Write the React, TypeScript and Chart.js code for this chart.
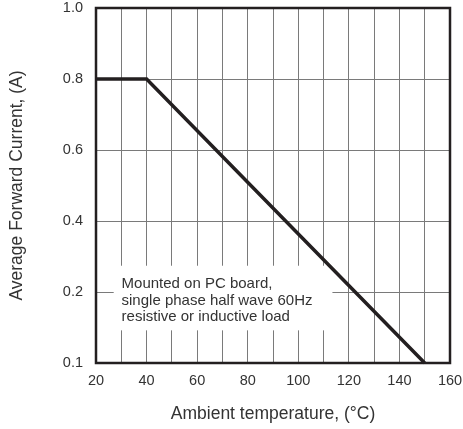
import { useEffect, useRef } from 'react';
import { Chart, registerables } from 'chart.js';

Chart.register(...registerables);

// ---- data ----
const temperatureC = [20, 40, 150];
const currentA = [0.8, 0.8, 0.1];
const yTickLabels = ['1.0', '0.8', '0.6', '0.4', '0.2', '0.1'];
const xMin = 20;
const xMax = 160;
const xMinorStep = 10;
const xLabelStep = 20;
const noteLines = ['Mounted on PC board,', 'single phase half wave 60Hz', 'resistive or inductive load'];
const xTitle = 'Ambient temperature, (°C)';
const yTitle = 'Average Forward Current, (A)';

const FONT = "'Liberation Sans', Arial, Helvetica, sans-serif";
const INK = '#231f20';

const notePlugin = {
  id: 'noteBox',
  beforeDatasetsDraw(chart: any) {
    const { ctx, scales } = chart;
    const xs = scales.x;
    const ys = scales.y;
    const left = xs.getPixelForValue(27);
    const right = xs.getPixelForValue(113.5);
    const top = ys.getPixelForValue(3.63);
    const bottom = ys.getPixelForValue(4.54);
    ctx.save();
    ctx.fillStyle = '#ffffff';
    ctx.fillRect(left, top, right - left, bottom - top);
    ctx.fillStyle = '#333333';
    ctx.font = `15px ${FONT}`;
    ctx.textBaseline = 'alphabetic';
    ctx.textAlign = 'left';
    const tx = xs.getPixelForValue(30.1);
    const base = ys.getPixelForValue(3.95);
    noteLines.forEach((line, i) => {
      ctx.fillText(line, tx, base + i * 16.2);
    });
    ctx.restore();
  },
};

const framePlugin = {
  id: 'frame',
  afterDatasetsDraw(chart: any) {
    const { ctx, chartArea } = chart;
    ctx.save();
    ctx.strokeStyle = INK;
    ctx.lineWidth = 2.5;
    ctx.strokeRect(chartArea.left, chartArea.top, chartArea.right - chartArea.left, chartArea.bottom - chartArea.top);
    ctx.restore();
  },
};

export default function App() {
  const ref = useRef<HTMLCanvasElement | null>(null);

  useEffect(() => {
    if (!ref.current) return;
    const chart = new Chart(ref.current, {
      type: 'line',
      data: {
        datasets: [
          {
            data: temperatureC.map((t, i) => ({ x: t, y: currentA[i].toFixed(1) })) as any,
            borderColor: INK,
            borderWidth: 3.5,
            pointRadius: 0,
            tension: 0,
            fill: false,
          },
        ],
      },
      options: {
        animation: false,
        responsive: true,
        maintainAspectRatio: false,
        layout: { padding: { top: 8, right: 13, left: 0, bottom: 0 } },
        plugins: {
          legend: { display: false },
          tooltip: { enabled: false },
        },
        scales: {
          x: {
            type: 'linear',
            min: xMin,
            max: xMax,
            afterFit: (s: any) => {
              s.height = 66;
              s.paddingLeft = 0;
              s.paddingRight = 0;
              s.paddingTop = 0;
              s.paddingBottom = 0;
            },
            ticks: {
              stepSize: xMinorStep,
              autoSkip: false,
              maxRotation: 0,
              padding: 9,
              color: '#333333',
              font: { family: FONT, size: 14.5 },
              callback: (v: any) => (Number(v) % xLabelStep === 0 ? String(v) : ''),
            },
            grid: { color: '#7a7a7a', lineWidth: 1, drawTicks: false },
            border: { display: false },
            title: {
              display: true,
              text: xTitle,
              color: '#333333',
              font: { family: FONT, size: 17.5 },
              padding: { top: 0, bottom: 4.5 },
            },
          },
          y: {
            type: 'category',
            labels: yTickLabels,
            afterFit: (s: any) => {
              s.width = 96;
              s.paddingLeft = 0;
              s.paddingRight = 0;
              s.paddingTop = 0;
              s.paddingBottom = 0;
            },
            ticks: {
              padding: 13,
              color: '#333333',
              font: { family: FONT, size: 14.5 },
            },
            grid: { color: '#7a7a7a', lineWidth: 1, drawTicks: false },
            border: { display: false },
            title: {
              display: true,
              text: yTitle,
              color: '#333333',
              font: { family: FONT, size: 17.5 },
              padding: { top: 6.5, bottom: 0 },
            },
          },
        },
      },
      plugins: [notePlugin, framePlugin],
    });
    return () => chart.destroy();
  }, []);

  return (
    <div style={{ position: 'absolute', left: 0, top: 0, width: 463, height: 429 }}>
      <canvas ref={ref} />
    </div>
  );
}
